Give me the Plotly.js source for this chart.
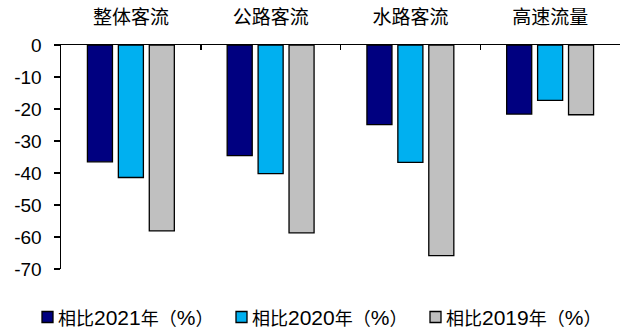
<!DOCTYPE html>
<html>
<head>
<meta charset="utf-8">
<script src="https://cdn.plot.ly/plotly-3.0.1.min.js"></script>
<style>
  html, body { margin: 0; padding: 0; background: #fff; }
  #chart { width: 627px; height: 331px; }
</style>
</head>
<body>
<div id="chart"></div>
<script>
// Passenger flow change by category (%)
const categories = ['整体客流', '公路客流', '水路客流', '高速流量'];
const vs2021 = [-36.5, -34.6, -24.9, -21.6];
const vs2020 = [-41.4, -40.2, -36.7, -17.3];
const vs2019 = [-58.1, -58.7, -65.8, -21.8];
const seriesNames = ['相比2021年（%）', '相比2020年（%）', '相比2019年（%）'];
const yTickVals = [0, -10, -20, -30, -40, -50, -60, -70];
const yTickText = ['0', '-10', '-20', '-30', '-40', '-50', '-60', '-70'];

const colors = ['#000080', '#00B0F0', '#C0C0C0'];
const seriesValues = [vs2021, vs2020, vs2019];

const W = 627, H = 331;
const M = { l: 61, r: 7, t: 45, b: 62 };
const plotW = W - M.l - M.r;
const plotH = H - M.t - M.b;
const px2x = px => (px - M.l) / plotW;          // pixel -> paper x
const px2y = py => (H - M.b - py) / plotH;      // pixel -> paper y

const traces = seriesValues.map((vals, i) => ({
  type: 'bar',
  x: categories,
  y: vals,
  name: seriesNames[i],
  marker: { color: colors[i], line: { color: '#000', width: 1.3 } },
  showlegend: false,
  hoverinfo: 'skip'
}));

// Legend drawn as a row of outlined swatches with labels beneath the plot
const legendLeft = [42, 236, 430];
const swatch = 11, legendMid = 317;
const shapes = [];
const annotations = [];
seriesNames.forEach((name, i) => {
  const x0 = legendLeft[i];
  shapes.push({
    type: 'rect', xref: 'paper', yref: 'paper',
    x0: px2x(x0), x1: px2x(x0 + swatch),
    y0: px2y(legendMid + swatch / 2), y1: px2y(legendMid - swatch / 2),
    fillcolor: colors[i], line: { color: '#000', width: 1.3 }
  });
  annotations.push({
    xref: 'paper', yref: 'paper',
    x: px2x(x0 + swatch + 3), y: px2y(legendMid),
    xanchor: 'left', yanchor: 'middle', showarrow: false,
    text: name.replace(/([0-9%]+)/g, '<span style="font-size:21px">$1</span>'),
    font: { family: '"Noto Sans CJK SC", sans-serif', size: 18, color: '#000' }
  });
});
// Latin glyphs in the legend use the same face as the axis numbers
annotations.forEach(a => {
  a.text = a.text.replace(/style="font-size:21px"/g,
    'style="font-size:21px;font-family:Liberation Sans, Arial, sans-serif"');
});

const layout = {
  width: W,
  height: H,
  margin: M,
  paper_bgcolor: '#fff',
  plot_bgcolor: '#fff',
  font: { family: 'Liberation Sans, Arial, sans-serif', color: '#000', size: 15 },
  barmode: 'group',
  bargap: 0.336,
  bargroupgap: 0.19,
  showlegend: false,
  shapes: shapes,
  annotations: annotations,
  xaxis: {
    side: 'top',
    type: 'category',
    showline: true,
    linecolor: '#000',
    linewidth: 1.5,
    ticks: 'inside',
    tickson: 'boundaries',
    ticklen: 5,
    tickwidth: 1.5,
    tickcolor: '#000',
    ticklabelstandoff: 12,
    tickfont: { family: '"Noto Sans CJK SC", sans-serif', size: 19, color: '#000' },
    showgrid: false,
    zeroline: false,
    fixedrange: true
  },
  yaxis: {
    range: [-70, 0],
    tickvals: yTickVals,
    ticktext: yTickText,
    showline: true,
    linecolor: '#000',
    linewidth: 1.5,
    ticks: 'outside',
    ticklen: 6,
    tickwidth: 1.5,
    tickcolor: '#000',
    ticklabelstandoff: 8,
    tickfont: { family: 'Liberation Sans, Arial, sans-serif', size: 19, color: '#000' },
    showgrid: false,
    zeroline: false,
    fixedrange: true
  }
};

Plotly.newPlot('chart', traces, layout, { displayModeBar: false, staticPlot: true });
</script>
</body>
</html>
